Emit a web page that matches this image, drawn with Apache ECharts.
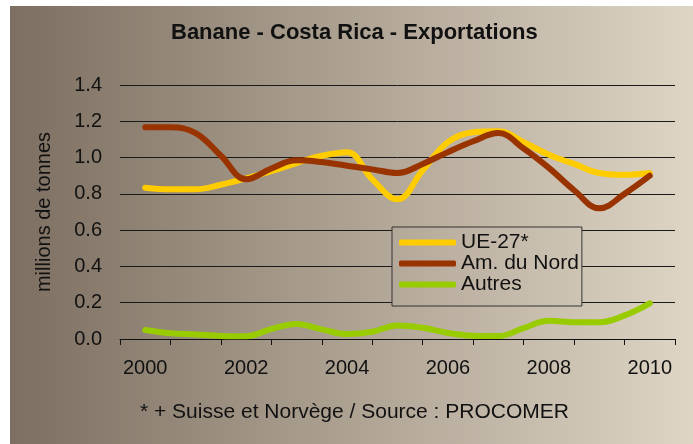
<!DOCTYPE html>
<html>
<head>
<meta charset="utf-8">
<script src="https://cdn.jsdelivr.net/npm/echarts@6/dist/echarts.min.js"></script>
<style>
  html, body { margin: 0; padding: 0; background: #ffffff; }
  #chart { width: 693px; height: 444px; }
</style>
</head>
<body>
<div id="chart"></div>
<script>
// Years shown on the category axis
const years = ['2000', '2001', '2002', '2003', '2004', '2005', '2006', '2007', '2008', '2009', '2010'];

// Half-year observation points
const periods = [2000, 2000.5, 2001, 2001.5, 2002, 2002.5, 2003, 2003.5, 2004, 2004.5,
                 2005, 2005.5, 2006, 2006.5, 2007, 2007.5, 2008, 2008.5, 2009, 2009.5, 2010];

// Exports, millions of tonnes
const ue27 = [0.834, 0.825, 0.825, 0.850, 0.885, 0.925, 0.970, 1.010, 1.030, 0.880,
              0.770, 0.930, 1.085, 1.140, 1.145, 1.085, 1.015, 0.965, 0.915, 0.905, 0.915];
const amNord = [1.167, 1.167, 1.135, 1.010, 0.880, 0.940, 0.985, 0.975, 0.955, 0.935,
                0.915, 0.965, 1.030, 1.090, 1.135, 1.050, 0.943, 0.820, 0.720, 0.800, 0.900];
const autres = [0.050, 0.032, 0.025, 0.017, 0.015, 0.055, 0.083, 0.053, 0.027, 0.040,
                0.075, 0.062, 0.033, 0.018, 0.016, 0.060, 0.100, 0.092, 0.092, 0.130, 0.197];

const seriesNames = ['UE-27*', 'Am. du Nord', 'Autres'];
const seriesColors = ['#FFCC00', '#993300', '#99CC00'];
const seriesValues = [ue27, amNord, autres];

const FONT = '"Liberation Sans", Arial, sans-serif';

const bgStops = [
  { offset: 0, color: '#7b6e60' },
  { offset: 0.5, color: '#ada192' },
  { offset: 1, color: '#ded5c5' }
];
const bgGradient = new echarts.graphic.LinearGradient(0, 0, 693, 0, bgStops, true);

// Legend box placement; its fill continues the page gradient in the legend's local frame
const LEGEND_LEFT = 392;
const LEGEND_PAD = [5, 3, 11, 7];
const legendOriginX = LEGEND_LEFT + LEGEND_PAD[3];
const legendGradient = new echarts.graphic.LinearGradient(
  -legendOriginX, 0, 693 - legendOriginX, 0, bgStops, true);

const chart = echarts.init(document.getElementById('chart'), null, { renderer: 'canvas' });

chart.setOption({
  backgroundColor: bgGradient,
  animation: false,
  textStyle: { fontFamily: FONT },
  graphic: [
    { type: 'rect', shape: { x: 0, y: 0, width: 693, height: 6 }, style: { fill: '#ffffff' }, silent: true },
    { type: 'rect', shape: { x: 0, y: 0, width: 10, height: 444 }, style: { fill: '#ffffff' }, silent: true }
  ],
  title: [
    {
      text: 'Banane - Costa Rica - Exportations',
      left: 171,
      top: 22,
      padding: 0,
      textStyle: { fontFamily: FONT, fontSize: 22, fontWeight: 'bold', color: '#111' }
    },
    {
      text: '* + Suisse et Norvège / Source : PROCOMER',
      left: 140,
      top: 402,
      padding: 0,
      textStyle: { fontFamily: FONT, fontSize: 21, fontWeight: 'normal', color: '#111' }
    }
  ],
  legend: {
    orient: 'vertical',
    left: LEGEND_LEFT,
    top: 227,
    padding: LEGEND_PAD,
    itemWidth: 57,
    itemHeight: 6,
    itemGap: 0,
    icon: 'roundRect',
    backgroundColor: legendGradient,
    borderColor: '#333',
    borderWidth: 1,
    borderRadius: 0,
    textStyle: { fontFamily: FONT, fontSize: 21, lineHeight: 20.5, color: '#111' },
    data: seriesNames
  },
  grid: { left: 120, right: 18, top: 85, bottom: 105, containLabel: false },
  xAxis: [
    {
      type: 'category',
      data: years,
      boundaryGap: true,
      axisLine: { show: true, lineStyle: { color: '#111', width: 1 } },
      axisTick: { show: true, interval: 0, length: 6, lineStyle: { color: '#111' } },
      axisLabel: { interval: 1, fontFamily: FONT, fontSize: 20, color: '#111', margin: 19 },
      splitLine: { show: false }
    },
    {
      type: 'value',
      min: 1999.5,
      max: 2010.5,
      show: false
    }
  ],
  yAxis: {
    type: 'value',
    min: 0,
    max: 1.4,
    interval: 0.2,
    name: 'millions de tonnes',
    nameLocation: 'middle',
    nameRotate: 90,
    nameGap: 66,
    nameTextStyle: { fontFamily: FONT, fontSize: 20, color: '#111' },
    axisLine: { show: false },
    axisTick: { show: false },
    axisLabel: {
      fontFamily: FONT, fontSize: 20, color: '#111', margin: 18,
      formatter: v => v.toFixed(1)
    },
    splitLine: { show: true, lineStyle: { color: '#1a1a1a', width: 1 } }
  },
  series: seriesNames.map((name, i) => ({
    name: name,
    type: 'line',
    xAxisIndex: 1,
    smooth: 0.4,
    showSymbol: false,
    symbol: 'none',
    lineStyle: { color: seriesColors[i], width: 6, cap: 'round', join: 'round' },
    itemStyle: { color: seriesColors[i] },
    data: periods.map((p, k) => [p, seriesValues[i][k]])
  }))
});
</script>
</body>
</html>
